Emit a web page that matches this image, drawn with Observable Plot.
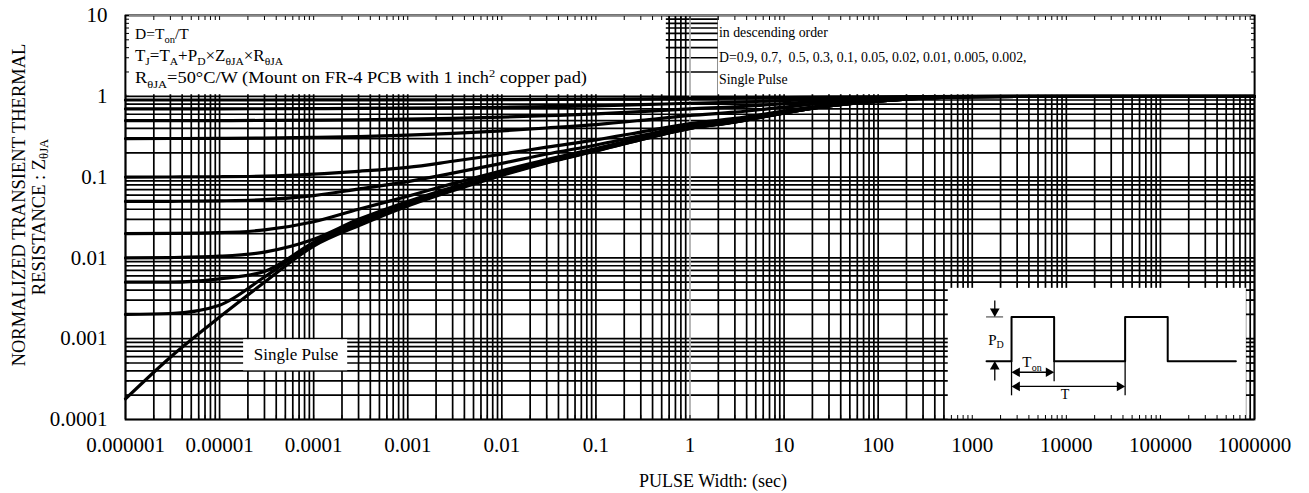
<!DOCTYPE html>
<html><head><meta charset="utf-8">
<script src="https://cdn.jsdelivr.net/npm/d3@7"></script>
<script src="https://cdn.jsdelivr.net/npm/@observablehq/plot@0.6"></script>
<style>
body{margin:0;background:#fff;}
#wrap{position:relative;width:1309px;height:493px;overflow:hidden;}
#inset{position:absolute;}
</style></head><body><div id="wrap"></div>
<script>
// ---- data ----
const pulseWidth = [1e-6, 3e-6, 1e-5, 3e-5, 1e-4, 3e-4, 1e-3, 3e-3, 1e-2, 3e-2, 0.1, 0.3, 1, 3, 10, 30, 100, 300, 1000, 1e4, 1e5, 1e6];
const dutyNames = ["0.9", "0.7", "0.5", "0.3", "0.1", "0.05", "0.02", "0.01", "0.005", "0.002", "Single Pulse"];
const zD0_9   = [0.9, 0.9001, 0.9002, 0.9005, 0.9014, 0.9025, 0.9044, 0.9068, 0.9105, 0.915, 0.921, 0.929, 0.94, 0.948, 0.962, 0.976, 0.987, 0.995, 0.999, 1, 1, 1];
const zD0_7   = [0.7, 0.7002, 0.7006, 0.7015, 0.7042, 0.7075, 0.7132, 0.7204, 0.7315, 0.745, 0.763, 0.787, 0.82, 0.844, 0.886, 0.928, 0.961, 0.985, 0.997, 1, 1, 1];
const zD0_5   = [0.5, 0.5003, 0.5009, 0.5025, 0.507, 0.5125, 0.522, 0.534, 0.5525, 0.575, 0.605, 0.645, 0.7, 0.74, 0.81, 0.88, 0.935, 0.975, 0.995, 1, 1, 1];
const zD0_3   = [0.3, 0.3004, 0.3013, 0.3035, 0.3098, 0.3175, 0.3308, 0.3476, 0.3735, 0.405, 0.447, 0.503, 0.58, 0.636, 0.734, 0.832, 0.909, 0.965, 0.993, 1, 1, 1];
const zD0_1   = [0.1, 0.1003, 0.101, 0.103, 0.109, 0.118, 0.132, 0.157, 0.192, 0.235, 0.289, 0.361, 0.46, 0.532, 0.658, 0.784, 0.883, 0.955, 0.991, 1, 1, 1];
const zD0_05  = [0.05, 0.0502, 0.0508, 0.0525, 0.059, 0.071, 0.088, 0.112, 0.148, 0.193, 0.25, 0.326, 0.43, 0.506, 0.639, 0.772, 0.877, 0.953, 0.991, 1, 1, 1];
const zD0_02  = [0.02, 0.0201, 0.0205, 0.0222, 0.028, 0.04, 0.058, 0.083, 0.12, 0.165, 0.226, 0.304, 0.412, 0.49, 0.628, 0.765, 0.873, 0.951, 0.99, 1, 1, 1];
const zD0_01  = [0.01, 0.0101, 0.0105, 0.0118, 0.017, 0.03, 0.05, 0.075, 0.112, 0.158, 0.218, 0.297, 0.406, 0.485, 0.624, 0.762, 0.871, 0.951, 0.99, 1, 1, 1];
const zD0_005 = [0.005, 0.005, 0.0055, 0.0068, 0.0155, 0.028, 0.047, 0.071, 0.108, 0.154, 0.214, 0.294, 0.403, 0.483, 0.622, 0.761, 0.871, 0.95, 0.99, 1, 1, 1];
const zD0_002 = [0.002, 0.00205, 0.0026, 0.0058, 0.015, 0.026, 0.045, 0.07, 0.107, 0.152, 0.212, 0.291, 0.401, 0.481, 0.621, 0.76, 0.87, 0.95, 0.99, 1, 1, 1];
const zSingle = [0.00018, 0.00059, 0.00185, 0.005, 0.014, 0.025, 0.044, 0.068, 0.105, 0.15, 0.21, 0.29, 0.4, 0.48, 0.62, 0.76, 0.87, 0.95, 0.99, 1, 1, 1];

const xTickValues = [1e-6, 1e-5, 1e-4, 1e-3, 1e-2, 1e-1, 1, 10, 100, 1000, 1e4, 1e5, 1e6];
const xTickLabels = ["0.000001", "0.00001", "0.0001", "0.001", "0.01", "0.1", "1", "10", "100", "1000", "10000", "100000", "1000000"];
const yTickValues = [1e-4, 1e-3, 1e-2, 1e-1, 1, 10];
const yTickLabels = ["0.0001", "0.001", "0.01", "0.1", "1", "10"];

// inset pulse waveform (units: time, level)
const waveT = [-1.76, 0, 0, 3, 3, 8, 8, 11, 11, 15.8];
const waveV = [0, 0, 1, 1, 0, 0, 1, 1, 0, 0];

// ---- build table ----
const seriesValues = [zD0_9, zD0_7, zD0_5, zD0_3, zD0_1, zD0_05, zD0_02, zD0_01, zD0_005, zD0_002, zSingle];
const table = [];
seriesValues.forEach((vals, s) => vals.forEach((z, i) => table.push({D: dutyNames[s], t: pulseWidth[i], z})));

// grid values (every 1..9 per decade)
const xGrid = [];
for (let k = -6; k <= 5; k++) for (let m = 1; m <= 9; m++) xGrid.push(+(m + "e" + k));
xGrid.push(1e6);
const yGrid = [];
for (let k = -4; k <= 0; k++) for (let m = 1; m <= 9; m++) yGrid.push(+(m + "e" + k));
yGrid.push(10);

const serif = "'Liberation Serif', 'Times New Roman', serif";
const boxes = [
  {x1: 1e-6, x2: 0.56, y1: 1.045, y2: 10},
  {x1: 2, x2: 1e6, y1: 1.045, y2: 10},
  {x1: 556, x2: 8.2e5, y1: 1e-4, y2: 0.0042},
  {x1: 1.8e-5, x2: 2.3e-4, y1: 4.0e-4, y2: 0.00097}
];

const chart = Plot.plot({
  width: 1309, height: 493,
  marginTop: 15, marginBottom: 74, marginLeft: 125, marginRight: 55,
  style: {fontFamily: serif, background: "#fff", color: "#000"},
  x: {type: "log", domain: [1e-6, 1e6]},
  y: {type: "log", domain: [1e-4, 10]},
  marks: [
    Plot.ruleX(xGrid.filter(d => d !== 1), {stroke: "#000", strokeWidth: 1.7}),
    Plot.ruleY(yGrid, {stroke: "#000", strokeWidth: 1.7}),
    Plot.ruleX([1], {stroke: "#aaa", strokeWidth: 1.7}),
    Plot.line(table, {x: "t", y: "z", z: "D", stroke: "#000", strokeWidth: 3.2, curve: "monotone-x"}),
    Plot.rect(boxes, {x1: "x1", x2: "x2", y1: "y1", y2: "y2", fill: "#fff", inset: 0}),
    Plot.text(["Single Pulse"], {x: 6.5e-5, y: 6.3e-4, text: d => d, fontSize: 17, fill: "#000"}),
    Plot.frame({stroke: "#000", strokeWidth: 1.8}),
    Plot.ruleY([10], {stroke: "#888", strokeWidth: 1.2}),
    Plot.axisX({anchor: "bottom", ticks: xGrid, tickSize: -4, fill: "none", label: null, stroke: "#000"}),
    Plot.axisX({anchor: "top", ticks: xGrid, tickSize: -4, fill: "none", label: null, stroke: "#000"}),
    Plot.axisY({anchor: "left", ticks: yGrid, tickSize: -4, fill: "none", label: null, stroke: "#000"}),
    Plot.axisY({anchor: "right", ticks: yGrid, tickSize: -4, fill: "none", label: null, stroke: "#000"}),
    Plot.axisX({anchor: "bottom", ticks: xTickValues, tickFormat: d => xTickLabels[xTickValues.indexOf(d)], tickSize: 0, tickPadding: 18, fontSize: 21, label: null}),
    Plot.axisY({anchor: "left", ticks: yTickValues, tickFormat: d => yTickLabels[yTickValues.indexOf(d)], tickSize: 0, tickPadding: 18, fontSize: 21, label: null})
  ]
});
document.getElementById("wrap").appendChild(chart);

// ---- rich text annotations (sub/superscripts) ----
const svg = d3.select(chart);
function rich(g, x, y, parts, size, anchor = "start") {
  const t = g.append("text").attr("x", x).attr("y", y).attr("font-size", size)
    .attr("font-family", serif).attr("fill", "#000").attr("text-anchor", anchor).style("white-space", "pre");
  let shift = 0;
  for (const [s, kind] of parts) {
    const target = kind === "sub" ? 0.28 * size : kind === "sup" ? -0.38 * size : 0;
    const ts = t.append("tspan").text(s).attr("dy", target - shift);
    if (kind) ts.attr("font-size", size * 0.68);
    shift = target;
  }
  return t;
}
const ann = svg.append("g");
rich(ann, 135, 39, [["D=T"], ["on", "sub"], ["/T"]], 15.5);
rich(ann, 135, 60.5, [["T"], ["J", "sub"], ["=T"], ["A", "sub"], ["+P"], ["D", "sub"], ["\u00d7Z"], ["\u03b8JA", "sub"], ["\u00d7R"], ["\u03b8JA", "sub"]], 16)
  .attr("textLength", 148).attr("lengthAdjust", "spacingAndGlyphs");
rich(ann, 135, 83, [["R"], ["\u03b8JA", "sub"], ["=50\u00b0C/W (Mount on FR-4 PCB with 1 inch"], ["2", "sup"], [" copper pad)"]], 16.5)
  .attr("textLength", 452).attr("lengthAdjust", "spacingAndGlyphs");
rich(ann, 719, 37, [["in descending order"]], 13.8);
rich(ann, 719, 61.5, [["D=0.9, 0.7,  0.5, 0.3, 0.1, 0.05, 0.02, 0.01, 0.005, 0.002,"]], 13.8);
rich(ann, 719, 83.5, [["Single Pulse"]], 13.8);

// y title (two lines, rotated)
const yt1 = svg.append("g").attr("transform", "translate(19,205) rotate(-90)");
rich(yt1, 0, 0, [["NORMALIZED TRANSIENT THERMAL"]], 18.5, "middle").attr("dominant-baseline", "central");
const yt2 = svg.append("g").attr("transform", "translate(39,217) rotate(-90)");
rich(yt2, 0, 0, [["RESISTANCE : Z"], ["\u03b8JA", "sub"]], 18.5, "middle").attr("dominant-baseline", "central");
// x title
rich(svg.append("g"), 713, 487, [["PULSE Width: (sec)"]], 18, "middle");

// ---- inset pulse diagram ----
const sx = chart.scale("x"), sy = chart.scale("y");
const insetLeft = sx.apply(556), insetTop = sy.apply(0.0042);
const wave = waveT.map((u, i) => ({u, v: waveV[i]}));
const head = 0.39, headV = 0.124;
const inset = Plot.plot({
  width: 300, height: 131,
  marginTop: 0, marginBottom: 0, marginLeft: 0, marginRight: 0,
  style: {fontFamily: serif, background: "transparent", color: "#000", overflow: "visible"},
  x: {domain: [-4.44, 16.69], axis: null},
  y: {domain: [-1.316, 1.641], axis: null},
  marks: [
    Plot.line(wave, {x: "u", y: "v", stroke: "#000", strokeWidth: 2}),
    Plot.ruleY([1], {x1: -1.76, x2: -0.56, stroke: "#777", strokeWidth: 1.5}),
    Plot.link([
      {x1: -1.18, y1: 1.37, x2: -1.18, y2: 1.05},
      {x1: -1.18, y1: -0.436, x2: -1.18, y2: -0.05},
      {x1: 0.2, y1: -0.25, x2: 2.8, y2: -0.25},
      {x1: 0.2, y1: -0.57, x2: 7.8, y2: -0.57},
      {x1: 0, y1: 0, x2: 0, y2: -0.77},
      {x1: 3, y1: 0, x2: 3, y2: -0.45},
      {x1: 8, y1: 0, x2: 8, y2: -0.77}
    ], {x1: "x1", y1: "y1", x2: "x2", y2: "y2", stroke: "#000", strokeWidth: 1.3}),
    Plot.dot([
      {u: -1.18, v: 1 + headV, r: 180},
      {u: -1.18, v: -headV, r: 0},
      {u: head, v: -0.25, r: -90},
      {u: 3 - head, v: -0.25, r: 90},
      {u: head, v: -0.57, r: -90},
      {u: 8 - head, v: -0.57, r: 90}
    ], {x: "u", y: "v", rotate: "r", symbol: "triangle", r: 3.6, fill: "#000", stroke: "none"}),
    Plot.text(["P"], {x: -1.34, y: 0.467, text: d => d, fontSize: 15}),
    Plot.text(["D"], {x: -0.81, y: 0.366, text: d => d, fontSize: 10}),
    Plot.text(["T"], {x: 1.08, y: -0.03, text: d => d, fontSize: 15}),
    Plot.text(["on"], {x: 1.78, y: -0.153, text: d => d, fontSize: 10}),
    Plot.text(["T"], {x: 3.77, y: -0.75, text: d => d, fontSize: 14})
  ]
});
inset.id = "inset";
inset.style.left = insetLeft + "px";
inset.style.top = insetTop + "px";
document.getElementById("wrap").appendChild(inset);
</script>
</body></html>
